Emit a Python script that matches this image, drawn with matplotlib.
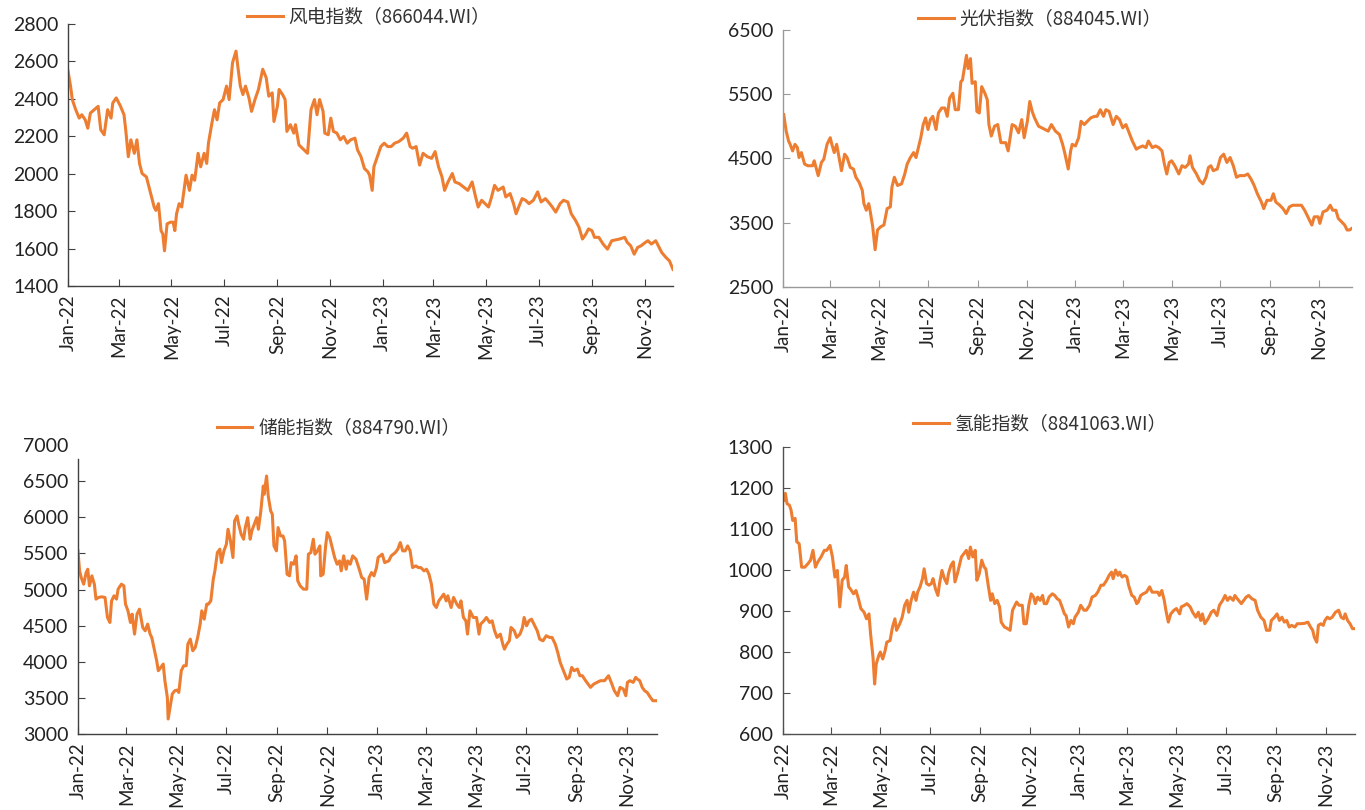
import numpy as np
import pandas as pd
import matplotlib
matplotlib.use('Agg')
import matplotlib.pyplot as plt
import matplotlib.dates as mdates

# --- data (day offset from 2022-01-01, index level) ---
wind_days = [0, 3, 5, 9, 13, 16, 20, 23, 26, 35, 38, 42, 46, 50, 52, 56, 61, 65, 67, 70,
             73, 77, 80, 83, 86, 91, 96, 100, 102, 105, 108, 110, 112, 115, 119, 122, 124, 126, 129, 132,
             137, 141, 144, 147, 151, 154, 158, 161, 163, 167, 170, 173, 176, 180, 184, 187, 191, 195, 197, 200,
             203, 206, 210, 213, 217, 221, 226, 230, 233, 237, 239, 243, 245, 249, 252, 254, 258, 262, 264, 268,
             278, 282, 286, 289, 292, 296, 298, 302, 305, 308, 312, 316, 320, 324, 328, 333, 336, 340, 344, 348,
             350, 353, 355, 359, 363, 367, 371, 375, 379, 384, 389, 393, 397, 400, 404, 408, 412, 417, 422, 426,
             430, 434, 437, 441, 446, 449, 454, 459, 464, 469, 473, 476, 480, 484, 488, 491, 495, 499, 505, 508,
             513, 517, 520, 523, 527, 531, 535, 540, 545, 549, 554, 559, 562, 566, 571, 575, 580, 584, 589, 593,
             597, 601, 604, 608, 611, 616, 621, 626, 631, 640, 646, 649, 653, 657, 661, 665, 670, 673, 677, 682,
             685, 689, 694, 698, 702]
wind_vals = [2549, 2468, 2396, 2342, 2297, 2315, 2288, 2243, 2324, 2360, 2235, 2208, 2342, 2297, 2378, 2405, 2360, 2315, 2235, 2091,
             2181, 2109, 2181, 2055, 2001, 1983, 1894, 1822, 1804, 1840, 1696, 1678, 1588, 1732, 1741, 1741, 1696, 1786, 1840, 1822,
             1992, 1911, 1992, 1965, 2109, 2037, 2109, 2055, 2163, 2270, 2342, 2288, 2378, 2396, 2468, 2396, 2594, 2655, 2576, 2468,
             2423, 2468, 2405, 2333, 2396, 2450, 2558, 2513, 2414, 2432, 2279, 2360, 2450, 2423, 2396, 2226, 2262, 2217, 2262, 2154,
             2109, 2342, 2396, 2315, 2396, 2333, 2217, 2208, 2297, 2226, 2217, 2181, 2199, 2163, 2181, 2190, 2127, 2091, 2028, 2010,
             1992, 1911, 2037, 2091, 2145, 2163, 2145, 2145, 2163, 2172, 2190, 2217, 2145, 2136, 2145, 2046, 2109, 2091, 2082, 2118,
             2037, 1983, 1911, 1956, 2001, 1956, 1947, 1929, 1911, 1956, 1876, 1822, 1858, 1840, 1822, 1867, 1938, 1911, 1929, 1876,
             1894, 1840, 1786, 1822, 1867, 1858, 1840, 1858, 1903, 1849, 1867, 1840, 1822, 1795, 1840, 1858, 1849, 1786, 1750, 1714,
             1651, 1678, 1705, 1696, 1660, 1660, 1624, 1597, 1642, 1651, 1660, 1633, 1615, 1570, 1606, 1615, 1633, 1642, 1624, 1642,
             1615, 1579, 1552, 1534, 1489]

pv_days = [1, 4, 7, 9, 12, 15, 18, 20, 23, 27, 31, 37, 39, 44, 48, 51, 55, 59, 61, 64,
           67, 70, 73, 77, 80, 84, 88, 91, 95, 99, 101, 104, 107, 109, 112, 115, 118, 122, 126, 130,
           134, 136, 139, 143, 148, 152, 155, 159, 163, 166, 170, 172, 175, 178, 181, 184, 187, 191, 194, 198,
           202, 205, 208, 212, 215, 219, 222, 224, 227, 229, 231, 234, 236, 240, 242, 245, 248, 252, 255, 257,
           260, 264, 268, 272, 278, 281, 286, 290, 294, 298, 301, 305, 308, 311, 314, 319, 323, 327, 331, 335,
           340, 345, 349, 352, 356, 359, 361, 365, 369, 372, 376, 380, 384, 389, 392, 396, 400, 403, 407, 412,
           416, 420, 424, 428, 432, 436, 441, 444, 449, 453, 456, 461, 465, 469, 473, 476, 479, 482, 485, 489,
           494, 498, 502, 506, 508, 511, 516, 520, 524, 528, 531, 534, 537, 542, 546, 550, 554, 558, 562, 566,
           570, 576, 580, 584, 588, 592, 597, 600, 604, 609, 612, 615, 620, 624, 628, 632, 636, 641, 647, 651,
           655, 660, 663, 668, 670, 674, 679, 683, 686, 690, 693, 697, 701, 704, 707, 710]
pv_vals = [5182, 4926, 4772, 4720, 4618, 4720, 4669, 4515, 4592, 4413, 4387, 4387, 4464, 4233, 4438, 4490, 4720, 4823, 4720, 4592,
           4720, 4515, 4310, 4567, 4515, 4361, 4336, 4208, 4131, 4003, 3797, 3695, 3797, 3669, 3438, 3080, 3387, 3438, 3464, 3720,
           3746, 4054, 4208, 4080, 4105, 4259, 4413, 4515, 4592, 4515, 4720, 4823, 5028, 5131, 4951, 5105, 5156, 4951, 5208, 5285,
           5285, 5156, 5438, 5515, 5259, 5259, 5695, 5721, 5951, 6105, 5900, 6054, 5669, 5695, 5233, 5208, 5618, 5515, 5413, 5028,
           4849, 5002, 5028, 4746, 4746, 4618, 5028, 5002, 4900, 5105, 4823, 5079, 5387, 5233, 5131, 5002, 4977, 4951, 4926, 5028,
           4926, 4874, 4720, 4567, 4336, 4618, 4720, 4695, 4823, 5079, 5028, 5079, 5131, 5156, 5156, 5259, 5156, 5259, 5233, 5028,
           5156, 5105, 4977, 5028, 4900, 4772, 4644, 4669, 4695, 4669, 4772, 4669, 4695, 4669, 4618, 4413, 4259, 4438, 4464, 4387,
           4259, 4387, 4361, 4413, 4541, 4361, 4259, 4156, 4105, 4208, 4361, 4387, 4310, 4336, 4515, 4567, 4438, 4515, 4387, 4208,
           4233, 4233, 4259, 4182, 4080, 3951, 3823, 3720, 3849, 3849, 3951, 3823, 3772, 3720, 3643, 3746, 3772, 3772, 3772, 3695,
           3592, 3464, 3592, 3592, 3490, 3669, 3695, 3772, 3695, 3695, 3567, 3515, 3464, 3387, 3387, 3413]

storage_days = [0, 2, 4, 7, 10, 12, 14, 17, 20, 22, 25, 29, 33, 36, 39, 41, 44, 47, 49, 53,
                56, 58, 61, 64, 66, 69, 72, 75, 79, 82, 85, 88, 90, 93, 96, 98, 101, 104, 106, 109,
                110, 113, 115, 118, 121, 123, 126, 129, 132, 134, 137, 140, 143, 146, 149, 151, 154, 157, 159, 162,
                165, 167, 170, 173, 175, 178, 181, 183, 186, 189, 191, 194, 196, 199, 202, 204, 207, 210, 212, 215,
                218, 220, 223, 226, 227, 230, 232, 235, 237, 239, 242, 244, 247, 250, 252, 255, 258, 260, 263, 266,
                268, 271, 275, 279, 281, 284, 287, 289, 292, 295, 296, 299, 302, 304, 307, 311, 313, 316, 319, 321,
                324, 327, 329, 332, 335, 339, 343, 346, 349, 352, 355, 358, 361, 364, 366, 371, 374, 379, 382, 387,
                390, 393, 396, 399, 402, 405, 408, 412, 415, 418, 422, 425, 428, 431, 434, 437, 440, 443, 446, 449,
                451, 455, 458, 462, 465, 467, 470, 473, 475, 478, 482, 486, 489, 491, 495, 498, 502, 505, 508, 511,
                515, 518, 520, 523, 526, 528, 532, 535, 539, 542, 544, 547, 550, 553, 557, 560, 563, 567, 571, 575,
                578, 582, 585, 588, 592, 596, 599, 602, 605, 609, 612, 615, 619, 622, 625, 629, 633, 637, 642, 647,
                651, 654, 658, 661, 665, 668, 670, 673, 677, 680, 682, 685, 688, 691, 694, 698, 701, 703, 706]
storage_vals = [5535, 5258, 5166, 5074, 5235, 5281, 5051, 5189, 5074, 4867, 4890, 4899, 4890, 4613, 4544, 4843, 4913, 4867, 5005, 5074,
                5051, 4797, 4705, 4544, 4659, 4383, 4659, 4728, 4475, 4429, 4521, 4383, 4337, 4175, 4014, 3876, 3922, 3968, 3738, 3507,
                3208, 3415, 3553, 3599, 3608, 3576, 3876, 3945, 3945, 4244, 4313, 4152, 4198, 4337, 4521, 4705, 4590, 4797, 4797, 4843,
                5143, 5258, 5512, 5558, 5373, 5535, 5627, 5834, 5673, 5443, 5949, 6018, 5903, 5765, 5696, 5857, 5995, 5696, 5811, 5903,
                5995, 5834, 6088, 6433, 6318, 6571, 6295, 6088, 6042, 5604, 5535, 5857, 5742, 5742, 5673, 5212, 5189, 5373, 5350, 5466,
                5120, 5051, 5005, 5005, 5489, 5512, 5696, 5489, 5535, 5604, 5189, 5212, 5604, 5788, 5719, 5535, 5443, 5350, 5396, 5258,
                5466, 5281, 5396, 5350, 5466, 5420, 5281, 5166, 5143, 4867, 5166, 5235, 5189, 5304, 5443, 5489, 5373, 5396, 5466, 5512,
                5558, 5650, 5535, 5535, 5604, 5535, 5304, 5327, 5304, 5304, 5258, 5281, 5212, 5074, 4797, 4751, 4843, 4890, 4936, 4843,
                4913, 4751, 4890, 4797, 4751, 4843, 4613, 4567, 4383, 4705, 4613, 4613, 4383, 4521, 4567, 4613, 4544, 4567, 4429, 4337,
                4383, 4244, 4175, 4244, 4290, 4475, 4429, 4337, 4383, 4475, 4613, 4498, 4567, 4590, 4498, 4429, 4313, 4290, 4360, 4337,
                4337, 4244, 4129, 3991, 3876, 3761, 3784, 3922, 3876, 3899, 3807, 3807, 3738, 3692, 3646, 3692, 3715, 3738, 3738, 3807,
                3692, 3599, 3530, 3646, 3622, 3530, 3715, 3738, 3715, 3784, 3761, 3738, 3646, 3599, 3576, 3507, 3461, 3461, 3461]

hydrogen_days = [1, 3, 5, 8, 10, 12, 15, 17, 20, 23, 27, 31, 34, 37, 40, 43, 47, 51, 54, 58,
                 61, 64, 67, 70, 73, 76, 78, 81, 83, 87, 90, 93, 96, 100, 103, 106, 108, 111, 113, 115,
                 118, 120, 123, 126, 128, 132, 135, 138, 140, 144, 147, 150, 153, 155, 158, 161, 164, 166, 169, 172,
                 174, 177, 180, 183, 185, 188, 191, 193, 196, 199, 202, 204, 207, 210, 212, 215, 218, 220, 223, 226,
                 229, 231, 234, 237, 239, 242, 245, 248, 250, 253, 256, 258, 261, 264, 267, 269, 273, 277, 280, 283,
                 285, 288, 291, 295, 297, 300, 303, 306, 309, 311, 314, 317, 320, 322, 325, 328, 332, 335, 338, 341,
                 344, 347, 349, 352, 355, 358, 360, 364, 367, 371, 374, 378, 381, 385, 388, 392, 395, 399, 402, 405,
                 407, 410, 413, 415, 418, 421, 424, 426, 430, 433, 436, 438, 441, 444, 448, 452, 455, 459, 462, 464,
                 467, 470, 472, 475, 478, 482, 485, 489, 491, 495, 498, 502, 505, 509, 512, 515, 517, 520, 524, 528,
                 531, 535, 538, 542, 545, 548, 551, 555, 557, 560, 565, 568, 571, 574, 578, 582, 585, 589, 593, 596,
                 600, 602, 606, 609, 612, 615, 618, 621, 624, 627, 631, 634, 638, 643, 647, 650, 653, 655, 658, 660,
                 663, 666, 668, 671, 674, 677, 681, 685, 688, 691, 693, 696, 699, 702, 705]
hydrogen_vals = [1170, 1187, 1162, 1158, 1146, 1121, 1126, 1069, 1064, 1007, 1007, 1016, 1024, 1048, 1007, 1020, 1032, 1048, 1048, 1060,
                 1032, 983, 999, 910, 975, 983, 1011, 959, 954, 942, 950, 930, 906, 897, 881, 893, 844, 787, 722, 771,
                 791, 800, 783, 804, 824, 828, 861, 881, 853, 869, 885, 914, 926, 897, 926, 946, 926, 946, 959, 979,
                 1003, 967, 963, 967, 979, 954, 938, 967, 999, 979, 967, 991, 1011, 1020, 971, 991, 1016, 1032, 1040, 1048,
                 1028, 1056, 1032, 1048, 975, 991, 1024, 1007, 1003, 963, 926, 942, 918, 926, 910, 873, 861, 857, 853, 902,
                 910, 922, 914, 914, 869, 869, 914, 942, 934, 918, 934, 926, 938, 918, 918, 934, 942, 938, 930, 926,
                 910, 893, 889, 861, 877, 869, 885, 897, 914, 902, 902, 914, 934, 938, 946, 963, 963, 975, 987, 995,
                 979, 1000, 987, 995, 983, 987, 983, 963, 938, 934, 918, 922, 938, 942, 946, 959, 946, 946, 946, 938,
                 950, 926, 902, 873, 893, 902, 906, 893, 910, 914, 918, 910, 897, 885, 897, 877, 893, 869, 881, 897,
                 902, 889, 914, 926, 938, 926, 934, 926, 938, 930, 918, 926, 934, 938, 930, 926, 902, 885, 877, 853,
                 853, 877, 885, 893, 877, 885, 873, 877, 861, 865, 861, 869, 869, 870, 873, 862, 853, 836, 824, 865,
                 869, 865, 877, 885, 881, 885, 897, 902, 885, 881, 893, 877, 869, 857, 857]

titles = ['风电指数（866044.WI）', '光伏指数（884045.WI）', '储能指数（884790.WI）', '氢能指数（8841063.WI）']
y_ticks = [np.arange(1400, 2801, 200), np.arange(2500, 6501, 1000),
           np.arange(3000, 7001, 500), np.arange(600, 1301, 100)]

base = pd.Timestamp('2022-01-01')
tick_dates = pd.date_range('2022-01-01', '2023-11-01', freq='2MS')

plt.rcParams['font.family'] = ['Lato', 'DejaVu Sans']
orange = '#ED7D31'

fig = plt.figure(figsize=(13.65, 8.1), dpi=100)

# axes rectangles and legend centres, in figure fractions
panels = [
    (wind_days, wind_vals, [0.0498, 0.6469, 0.4432, 0.3235], (0.270, 0.979), '#404040'),
    (pv_days, pv_vals, [0.5736, 0.6457, 0.4168, 0.3173], (0.762, 0.977), '#999999'),
    (storage_days, storage_vals, [0.0571, 0.0938, 0.4242, 0.3568], (0.248, 0.472), '#404040'),
    (hydrogen_days, hydrogen_vals, [0.5736, 0.0938, 0.4190, 0.3543], (0.762, 0.477), '#505050'),
]

for i, (days, vals, rect, leg_xy, axcol) in enumerate(panels):
    ax = fig.add_axes(rect)
    dates = base + pd.to_timedelta(days, unit='D')
    ax.plot(dates, vals, color=orange, lw=2.2, label=titles[i], solid_joinstyle='round')

    ax.set_xlim(base, dates[-1])
    ax.set_ylim(y_ticks[i][0], y_ticks[i][-1])
    ax.set_yticks(y_ticks[i])
    ax.set_xticks(tick_dates)
    ax.xaxis.set_major_formatter(mdates.DateFormatter('%b-%y'))

    for s in ['top', 'right']:
        ax.spines[s].set_visible(False)
    for s in ['left', 'bottom']:
        ax.spines[s].set_color(axcol)
        ax.spines[s].set_linewidth(1.0)
    if i == 2:
        # the top tick of this panel has no axis line next to it
        ax.spines['left'].set_bounds(3000, 6800)

    ax.tick_params(axis='both', direction='in', length=5, color=axcol,
                   labelcolor='#222222')
    ax.tick_params(axis='y', pad=7, labelsize=14)
    ax.tick_params(axis='x', pad=6, labelrotation=90, labelsize=13.5)
    if i == 2:
        ax.yaxis.get_major_ticks()[-1].tick1line.set_visible(False)

    fig.legend(handles=ax.get_lines(), loc='center', bbox_to_anchor=leg_xy,
               frameon=False, handlelength=1.9, handletextpad=0.3,
               prop={'family': ['Noto Sans CJK SC', 'DejaVu Sans'], 'size': 13.5},
               labelcolor='#333333')

fig.savefig('out.png', dpi=100, facecolor='white')
